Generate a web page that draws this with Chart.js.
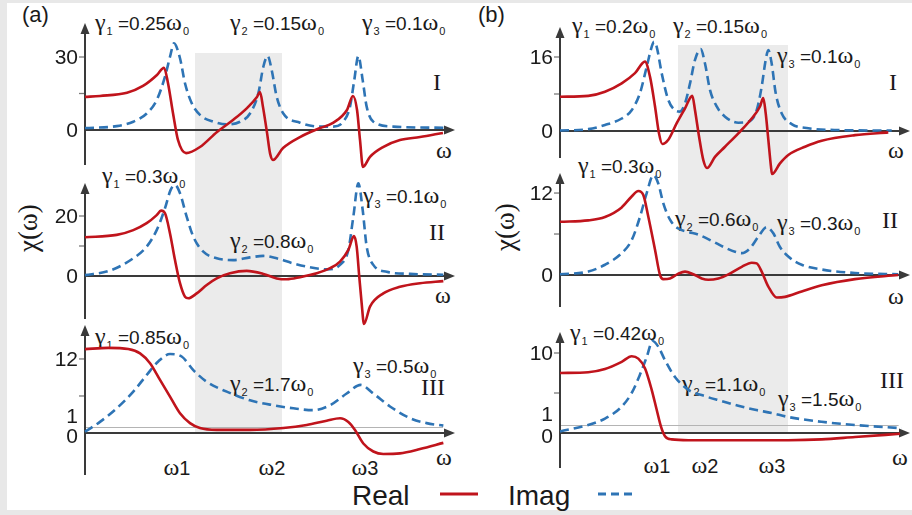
<!DOCTYPE html>
<html>
<head>
<meta charset="utf-8">
<script src="https://cdn.jsdelivr.net/npm/chart.js@4.4.1/dist/chart.umd.min.js"></script>
<style>
  html, body { margin: 0; padding: 0; }
  body { width: 912px; height: 515px; position: relative; overflow: hidden; background: #e8e8e8;
         font-family: "Liberation Sans", Arial, sans-serif; color: #1a1a1a; }
  #sheet { position: absolute; left: 7px; top: 3px; width: 905px; height: 507px; background: #fff; }
  .band { position: absolute; background: #ebebeb; }
  canvas { position: absolute; }
  .t { position: absolute; white-space: nowrap; font-size: 19px; line-height: 1; transform: translateY(-50%); }
  .c { transform: translate(-50%, -50%); }
  .gr { font-family: "Liberation Serif", serif; font-size: 24px; }
  .sb { font-size: 11px; position: relative; top: 5px; margin-left: 1px; }
  .rn { font-family: "Liberation Serif", serif; font-size: 24px; }
</style>
</head>
<body>
<div id="sheet"></div>
<div class="band" style="left:195px; top:53px; width:87px; height:381px"></div>
<div class="band" style="left:678px; top:45px; width:110px; height:389px"></div>

<!-- column (a) -->
<div class="t" style="left:22px; top:15px; font-size:22px">(a)</div>
<div class="t" style="left:95px; top:22px"><span class="gr">γ</span><span class="sb">1</span> =0.25<span class="gr">ω</span><span class="sb">0</span></div>
<div class="t" style="left:230px; top:22px"><span class="gr">γ</span><span class="sb">2</span> =0.15<span class="gr">ω</span><span class="sb">0</span></div>
<div class="t" style="left:362px; top:22px"><span class="gr">γ</span><span class="sb">3</span> =0.1<span class="gr">ω</span><span class="sb">0</span></div>
<div class="t c rn" style="left:437px; top:82px">I</div>
<div class="t c gr" style="left:444px; top:150px">ω</div>

<div class="t" style="left:102px; top:175px"><span class="gr">γ</span><span class="sb">1</span> =0.3<span class="gr">ω</span><span class="sb">0</span></div>
<div class="t" style="left:363px; top:195px"><span class="gr">γ</span><span class="sb">3</span> =0.1<span class="gr">ω</span><span class="sb">0</span></div>
<div class="t" style="left:230px; top:240px"><span class="gr">γ</span><span class="sb">2</span> =0.8<span class="gr">ω</span><span class="sb">0</span></div>
<div class="t c rn" style="left:437px; top:232px">II</div>
<div class="t c gr" style="left:443px; top:295px">ω</div>
<div class="t" style="left:28px; top:228px; transform:translate(-50%,-50%) rotate(-90deg); font-family:'Liberation Serif'; font-size:27px">χ(ω)</div>

<div class="t" style="left:95px; top:336px"><span class="gr">γ</span><span class="sb">1</span> =0.85<span class="gr">ω</span><span class="sb">0</span></div>
<div class="t" style="left:230px; top:383px"><span class="gr">γ</span><span class="sb">2</span> =1.7<span class="gr">ω</span><span class="sb">0</span></div>
<div class="t" style="left:353px; top:365px"><span class="gr">γ</span><span class="sb">3</span> =0.5<span class="gr">ω</span><span class="sb">0</span></div>
<div class="t c rn" style="left:433px; top:387px">III</div>
<div class="t c gr" style="left:444px; top:457px">ω</div>
<div class="t c" style="left:177px; top:467px; font-size:20px"><span class="gr">ω</span>1</div>
<div class="t c" style="left:272px; top:467px; font-size:20px"><span class="gr">ω</span>2</div>
<div class="t c" style="left:365px; top:467px; font-size:20px"><span class="gr">ω</span>3</div>

<!-- column (b) -->
<div class="t" style="left:478px; top:15px; font-size:22px">(b)</div>
<div class="t" style="left:572px; top:25px"><span class="gr">γ</span><span class="sb">1</span> =0.2<span class="gr">ω</span><span class="sb">0</span></div>
<div class="t" style="left:673px; top:25px"><span class="gr">γ</span><span class="sb">2</span> =0.15<span class="gr">ω</span><span class="sb">0</span></div>
<div class="t" style="left:777px; top:55px"><span class="gr">γ</span><span class="sb">3</span> =0.1<span class="gr">ω</span><span class="sb">0</span></div>
<div class="t c rn" style="left:893px; top:82px">I</div>
<div class="t c gr" style="left:896px; top:150px">ω</div>

<div class="t" style="left:578px; top:165px"><span class="gr">γ</span><span class="sb">1</span> =0.3<span class="gr">ω</span><span class="sb">0</span></div>
<div class="t" style="left:675px; top:218px"><span class="gr">γ</span><span class="sb">2</span> =0.6<span class="gr">ω</span><span class="sb">0</span></div>
<div class="t" style="left:777px; top:222px"><span class="gr">γ</span><span class="sb">3</span> =0.3<span class="gr">ω</span><span class="sb">0</span></div>
<div class="t c rn" style="left:890px; top:220px">II</div>
<div class="t c gr" style="left:896px; top:296px">ω</div>
<div class="t" style="left:505px; top:227px; transform:translate(-50%,-50%) rotate(-90deg); font-family:'Liberation Serif'; font-size:27px">χ(ω)</div>

<div class="t" style="left:570px; top:332px"><span class="gr">γ</span><span class="sb">1</span> =0.42<span class="gr">ω</span><span class="sb">0</span></div>
<div class="t" style="left:682px; top:383px"><span class="gr">γ</span><span class="sb">2</span> =1.1<span class="gr">ω</span><span class="sb">0</span></div>
<div class="t" style="left:778px; top:398px"><span class="gr">γ</span><span class="sb">3</span> =1.5<span class="gr">ω</span><span class="sb">0</span></div>
<div class="t c rn" style="left:892px; top:380px">III</div>
<div class="t c gr" style="left:900px; top:457px">ω</div>
<div class="t c" style="left:657px; top:465px; font-size:20px"><span class="gr">ω</span>1</div>
<div class="t c" style="left:705px; top:465px; font-size:20px"><span class="gr">ω</span>2</div>
<div class="t c" style="left:772px; top:465px; font-size:20px"><span class="gr">ω</span>3</div>

<!-- legend -->
<div class="t" style="left:352px; top:496px; font-size:28px">Real</div>
<svg style="position:absolute; left:438px; top:490px" width="42" height="8"><line x1="2" y1="4" x2="40" y2="4" stroke="#c0141c" stroke-width="3"/></svg>
<div class="t" style="left:508px; top:496px; font-size:28px">Imag</div>
<svg style="position:absolute; left:596px; top:490px" width="42" height="8"><line x1="2" y1="4" x2="40" y2="4" stroke="#2e74b5" stroke-width="3" stroke-dasharray="8 5"/></svg>

<script>
// x in units of the omega axis (0 .. 4), y = chi values
const aI_realX = [0, 0.162, 0.454, 0.627, 0.778, 0.854, 0.897, 0.951, 1.005, 1.092, 1.243, 1.427, 1.6, 1.751, 1.859, 1.892, 1.924, 1.968, 2.0, 2.032, 2.141, 2.324, 2.541, 2.681, 2.832, 2.897, 2.941, 2.973, 3.005, 3.081, 3.222, 3.405, 3.622, 3.870];
const aI_realY = [13.6, 14.0, 15.3, 18.1, 22.6, 25.6, 19.3, 7.0, -4.1, -9.5, -7.0, -0.8, 4.1, 9.0, 13.6, 15.6, 9.5, -1.2, -9.5, -12.3, -7.4, -2.9, 0.8, 2.9, 8.2, 14.0, 8.2, -4.1, -15.2, -11.0, -7.0, -4.1, -2.9, -1.2];
const aI_imagX = [0, 0.343, 0.522, 0.667, 0.775, 0.865, 0.919, 0.962, 1.027, 1.081, 1.154, 1.243, 1.387, 1.532, 1.676, 1.784, 1.874, 1.928, 1.975, 2.018, 2.072, 2.144, 2.324, 2.541, 2.684, 2.792, 2.865, 2.911, 2.955, 3.002, 3.045, 3.117, 3.333, 3.874];
const aI_imagY = [0.8, 1.6, 3.4, 6.8, 12.3, 21.9, 30.1, 35.6, 29.5, 19.2, 11.0, 6.2, 3.4, 2.3, 3.4, 6.8, 15.1, 26.0, 30.4, 24.7, 13.7, 6.8, 3.0, 1.4, 1.4, 3.4, 9.6, 20.5, 30.4, 20.5, 9.6, 3.4, 1.4, 0.9];

const aII_realX = [0, 0.343, 0.522, 0.667, 0.775, 0.822, 0.865, 0.919, 0.973, 1.027, 1.081, 1.117, 1.208, 1.316, 1.424, 1.568, 1.748, 1.928, 2.072, 2.181, 2.324, 2.505, 2.649, 2.757, 2.847, 2.908, 2.937, 2.965, 2.991, 3.016, 3.081, 3.225, 3.405, 3.622, 3.874];
const aII_realY = [12.9, 13.7, 15.3, 17.6, 20.3, 21.8, 20.9, 14.2, 5.3, -2.4, -6.9, -7.4, -5.8, -3.0, -0.8, 0.9, 1.7, 0.7, -0.8, -1.1, -0.4, 0.9, 2.6, 4.8, 8.7, 13.3, 9.8, -0.2, -9.1, -16.0, -10.2, -5.8, -3.6, -2.4, -1.7];
const aII_imagX = [0, 0.27, 0.522, 0.667, 0.775, 0.865, 0.926, 0.973, 1.027, 1.099, 1.171, 1.279, 1.424, 1.603, 1.784, 1.928, 2.072, 2.252, 2.432, 2.613, 2.757, 2.847, 2.901, 2.955, 3.002, 3.045, 3.117, 3.262, 3.514, 3.874];
const aII_imagY = [0.3, 1.8, 5.9, 9.8, 15.3, 22.6, 28.7, 30.3, 27.6, 19.8, 13.1, 8.1, 5.9, 5.3, 6.2, 6.7, 5.9, 4.2, 2.9, 2.2, 3.7, 8.7, 19.8, 30.9, 22.0, 9.8, 3.7, 1.4, 0.7, 0.4];

const aIII_realX = [0, 0.25, 0.468, 0.595, 0.703, 0.811, 0.919, 1.027, 1.135, 1.243, 1.424, 1.784, 2.144, 2.397, 2.613, 2.757, 2.847, 2.919, 3.009, 3.117, 3.225, 3.405, 3.622, 3.874];
const aIII_realY = [13.6, 13.8, 13.6, 12.9, 11.3, 8.6, 5.9, 3.2, 1.6, 0.8, 0.5, 0.5, 0.8, 1.3, 2.0, 2.4, 1.8, 0.5, -1.7, -3.0, -3.4, -3.3, -2.6, -1.6];
const aIII_imagX = [0, 0.162, 0.343, 0.522, 0.667, 0.792, 0.919, 1.045, 1.171, 1.316, 1.532, 1.784, 2.036, 2.252, 2.468, 2.649, 2.829, 2.981, 3.117, 3.297, 3.514, 3.693, 3.874];
const aIII_imagY = [0.2, 1.8, 4.0, 6.7, 9.4, 11.6, 12.8, 12.4, 10.2, 8.3, 6.7, 5.3, 4.5, 4.0, 3.7, 4.5, 6.4, 7.8, 6.4, 4.3, 2.4, 1.6, 1.2];

const bI_realX = [0, 0.323, 0.514, 0.705, 0.857, 0.971, 1.029, 1.086, 1.131, 1.169, 1.238, 1.334, 1.429, 1.512, 1.543, 1.589, 1.638, 1.68, 1.771, 1.886, 2.038, 2.191, 2.286, 2.323, 2.351, 2.381, 2.411, 2.423, 2.514, 2.609, 2.8, 2.991, 3.371, 3.752];
const bI_realY = [7.4, 7.6, 8.5, 10.3, 12.5, 15.0, 11.7, 5.3, -0.5, -2.8, -1.9, 1.7, 4.9, 7.6, 4.5, -1.2, -6.3, -8.0, -5.6, -3.4, -0.5, 2.7, 5.3, 7.1, 3.8, -1.9, -7.7, -9.3, -7.0, -5.2, -3.4, -2.1, -0.9, -0.3];
const bI_imagX = [0, 0.323, 0.514, 0.705, 0.819, 0.914, 0.991, 1.048, 1.074, 1.105, 1.162, 1.238, 1.314, 1.371, 1.429, 1.486, 1.543, 1.608, 1.657, 1.714, 1.791, 1.886, 2.038, 2.152, 2.248, 2.305, 2.351, 2.381, 2.419, 2.465, 2.534, 2.648, 2.838, 3.181, 3.791];
const bI_imagY = [0.1, 0.4, 1.3, 2.7, 4.5, 8.2, 13.9, 18.2, 19.3, 18.2, 12.5, 6.7, 4.5, 4.2, 6.0, 10.3, 15.4, 17.7, 14.6, 8.9, 5.3, 3.1, 1.8, 2.0, 4.5, 9.6, 15.4, 17.5, 14.6, 8.2, 3.8, 1.5, 0.6, 0.2, 0.1];

const bII_realX = [0, 0.323, 0.514, 0.705, 0.819, 0.895, 0.952, 1.01, 1.086, 1.143, 1.181, 1.257, 1.352, 1.429, 1.524, 1.619, 1.695, 1.81, 1.924, 2.077, 2.191, 2.248, 2.305, 2.381, 2.477, 2.571, 2.762, 2.991, 3.371, 3.866];
const bII_realY = [7.8, 8.0, 8.5, 9.9, 11.5, 12.3, 11.7, 8.5, 3.7, 0.0, -0.6, -0.5, 0.2, 0.5, 0.1, -0.5, -0.7, -0.5, 0.1, 1.2, 1.8, 1.7, 0.5, -1.7, -3.3, -3.2, -2.4, -1.5, -0.6, 0.0];
const bII_imagX = [0, 0.323, 0.514, 0.705, 0.819, 0.914, 0.991, 1.067, 1.123, 1.181, 1.257, 1.352, 1.467, 1.581, 1.734, 1.886, 2.0, 2.077, 2.171, 2.266, 2.362, 2.438, 2.514, 2.609, 2.762, 2.991, 3.371, 3.866];
const bII_imagY = [0.1, 0.5, 1.5, 3.2, 5.1, 8.5, 12.0, 14.6, 13.4, 10.5, 8.1, 6.8, 6.3, 5.9, 5.0, 4.0, 3.4, 3.2, 3.9, 5.6, 7.0, 6.1, 4.1, 2.7, 1.5, 0.8, 0.3, 0.1];

const bIII_realX = [0, 0.323, 0.514, 0.705, 0.819, 0.895, 0.971, 1.048, 1.105, 1.154, 1.2, 1.277, 1.467, 1.848, 2.229, 2.609, 2.991, 3.371, 3.886];
const bIII_realY = [7.5, 7.6, 8.0, 8.9, 9.6, 9.3, 8.1, 5.4, 2.9, 0.8, -0.4, -0.8, -0.9, -0.9, -0.9, -0.9, -0.8, -0.5, -0.1];
const bIII_imagX = [0, 0.323, 0.514, 0.705, 0.819, 0.914, 0.991, 1.059, 1.123, 1.2, 1.314, 1.467, 1.657, 1.848, 2.038, 2.229, 2.419, 2.609, 2.991, 3.371, 3.905];
const bIII_imagY = [0.2, 1.0, 1.8, 3.3, 5.0, 7.3, 9.5, 11.5, 10.8, 9.1, 7.0, 5.4, 4.6, 4.0, 3.4, 2.9, 2.5, 2.0, 1.4, 1.0, 0.6];

// tick labels on each y axis, and the unlabelled middle ticks
const aI_ticks = [0, 30],   aI_minor = [15];
const aII_ticks = [0, 20],  aII_minor = [10];
const aIII_ticks = [0, 1, 12], aIII_minor = [6];
const bI_ticks = [0, 16],   bI_minor = [8];
const bII_ticks = [0, 12],  bII_minor = [6];
const bIII_ticks = [0, 1, 10], bIII_minor = [5];

const red = '#c0141c';
const blue = '#2e74b5';
const axisCol = '#3a3a3a';

function pts(xs, ys) {
    return xs.map((x, i) => ({ x: x, y: ys[i] }));
}

// axes with arrows, y ticks and labels, drawn under the curves
const axisDeco = {
    id: 'axisDeco',
    beforeDatasetsDraw(chart, args, opts) {
        const ctx = chart.ctx;
        const xs = chart.scales.x, ys = chart.scales.y;
        const x0 = xs.getPixelForValue(0), x1 = xs.getPixelForValue(xs.max);
        const yTop = ys.getPixelForValue(ys.max), yBot = ys.getPixelForValue(ys.min);
        const yZero = ys.getPixelForValue(0);
        ctx.save();

        if (opts.unitLine) {
            const p = Math.round(ys.getPixelForValue(1)) + 0.5;
            ctx.strokeStyle = '#b4b4b4';
            ctx.lineWidth = 1;
            ctx.beginPath(); ctx.moveTo(x0, p); ctx.lineTo(xs.getPixelForValue(3.87), p); ctx.stroke();
        }

        ctx.strokeStyle = '#7a7a7a';
        ctx.lineWidth = 1.3;
        opts.ticks.concat(opts.minor).forEach(v => {
            if (v === 0 || (opts.unitLine && v === 1)) return;
            const p = ys.getPixelForValue(v);
            ctx.beginPath(); ctx.moveTo(x0 - 6, p); ctx.lineTo(x0, p); ctx.stroke();
        });

        ctx.strokeStyle = axisCol;
        ctx.fillStyle = axisCol;
        ctx.lineWidth = 2;
        ctx.beginPath(); ctx.moveTo(x0, yBot); ctx.lineTo(x0, yTop + 8); ctx.stroke();
        ctx.beginPath(); ctx.moveTo(x0, yZero); ctx.lineTo(x1 - 8, yZero); ctx.stroke();
        ctx.beginPath(); ctx.moveTo(x0, yTop); ctx.lineTo(x0 - 4.5, yTop + 11); ctx.lineTo(x0 + 4.5, yTop + 11); ctx.closePath(); ctx.fill();
        ctx.beginPath(); ctx.moveTo(x1, yZero); ctx.lineTo(x1 - 11, yZero - 4.5); ctx.lineTo(x1 - 11, yZero + 4.5); ctx.closePath(); ctx.fill();

        ctx.fillStyle = '#1a1a1a';
        ctx.font = '21px "Liberation Sans", Arial, sans-serif';
        ctx.textAlign = 'right';
        ctx.textBaseline = 'middle';
        opts.ticks.forEach(v => {
            let shift = 0;
            if (opts.unitLine && v === 0) shift = 3;
            if (opts.unitLine && v === 1) shift = -11;
            ctx.fillText(String(v), x0 - 7, ys.getPixelForValue(v) + shift + 1);
        });
        ctx.restore();
    }
};

function makePanel(p) {
    const pad = 22;
    const cv = document.createElement('canvas');
    cv.width = p.width;
    cv.height = p.bottomY - p.arrowY + 2 * pad;
    cv.style.left = p.left + 'px';
    cv.style.top = (p.arrowY - pad) + 'px';
    document.body.appendChild(cv);

    new Chart(cv, {
        type: 'line',
        data: {
            datasets: [
                { data: pts(p.realX, p.realY), borderColor: red, borderWidth: 2.6, clip: false },
                { data: pts(p.imagX, p.imagY), borderColor: blue, borderWidth: 2.6, borderDash: [9, 5], clip: false }
            ]
        },
        options: {
            responsive: false,
            animation: false,
            devicePixelRatio: 1,
            events: [],
            layout: { padding: { left: p.axisX - p.left, right: p.left + p.width - p.axisEnd, top: pad, bottom: pad } },
            scales: {
                x: { type: 'linear', min: 0, max: 4, display: false },
                y: { type: 'linear', min: (p.zeroY - p.bottomY) / p.ppu, max: (p.zeroY - p.arrowY) / p.ppu, display: false }
            },
            elements: {
                point: { radius: 0 },
                line: { cubicInterpolationMode: 'monotone', fill: false }
            },
            plugins: {
                legend: { display: false },
                tooltip: { enabled: false },
                axisDeco: { ticks: p.ticks, minor: p.minor, unitLine: p.unitLine }
            }
        },
        plugins: [axisDeco]
    });
}

const colA = { left: 0, width: 460, axisX: 85, axisEnd: 455 };
const colB = { left: 460, width: 452, axisX: 560, axisEnd: 910 };

makePanel({ ...colA, arrowY: 23, zeroY: 130, bottomY: 165, ppu: 73 / 30,
    realX: aI_realX, realY: aI_realY, imagX: aI_imagX, imagY: aI_imagY, ticks: aI_ticks, minor: aI_minor });
makePanel({ ...colA, arrowY: 183, zeroY: 276, bottomY: 319, ppu: 3.0,
    realX: aII_realX, realY: aII_realY, imagX: aII_imagX, imagY: aII_imagY, ticks: aII_ticks, minor: aII_minor });
makePanel({ ...colA, arrowY: 325, zeroY: 433, bottomY: 475, ppu: 6.17,
    realX: aIII_realX, realY: aIII_realY, imagX: aIII_imagX, imagY: aIII_imagY, ticks: aIII_ticks, minor: aIII_minor, unitLine: true });
makePanel({ ...colB, arrowY: 27, zeroY: 131, bottomY: 158, ppu: 4.625,
    realX: bI_realX, realY: bI_realY, imagX: bI_imagX, imagY: bI_imagY, ticks: bI_ticks, minor: bI_minor });
makePanel({ ...colB, arrowY: 173, zeroY: 275, bottomY: 307, ppu: 6.83,
    realX: bII_realX, realY: bII_realY, imagX: bII_imagX, imagY: bII_imagY, ticks: bII_ticks, minor: bII_minor });
makePanel({ ...colB, arrowY: 332, zeroY: 433, bottomY: 468, ppu: 8.0,
    realX: bIII_realX, realY: bIII_realY, imagX: bIII_imagX, imagY: bIII_imagY, ticks: bIII_ticks, minor: bIII_minor, unitLine: true });
</script>
</body>
</html>
